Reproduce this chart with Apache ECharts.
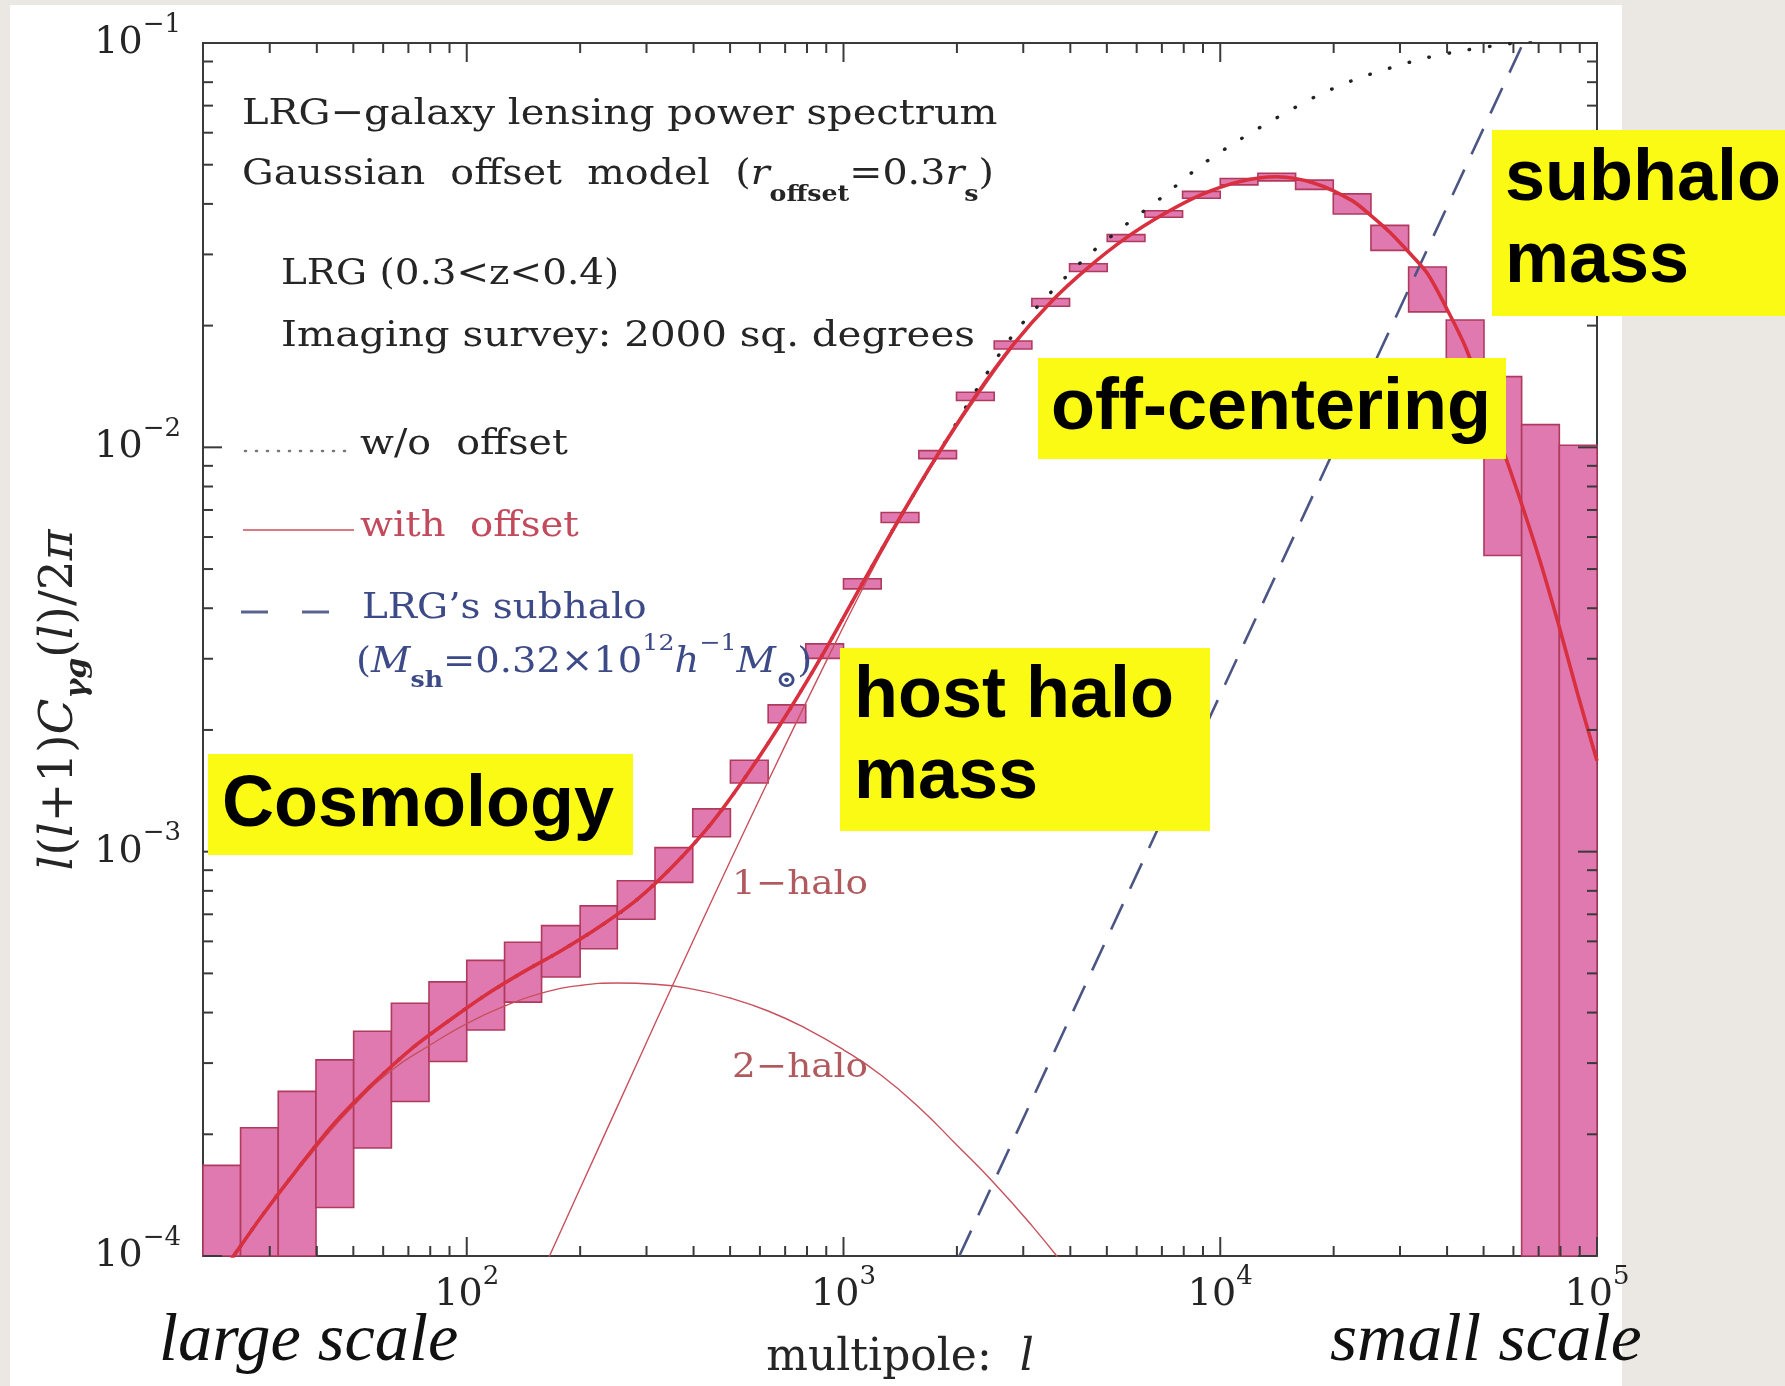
<!DOCTYPE html>
<html>
<head>
<meta charset="utf-8">
<script src="https://cdn.jsdelivr.net/npm/echarts@6/dist/echarts.min.js"></script>
<style>
  html, body { margin: 0; padding: 0; background: #ebe8e3; }
  #chart { width: 1785px; height: 1386px; }
</style>
</head>
<body>
<div id="chart"></div>
<script>
// ---- data -------------------------------------------------------------
// multipole bin edges (0.1 dex bins)
const binEdges = [19.95, 25.1, 31.6, 39.8, 50.1, 63.1, 79.4, 100, 126, 158, 200, 251, 316, 398, 501, 631, 794,
  1000, 1259, 1585, 1995, 2512, 3162, 3981, 5012, 6310, 7943, 10000, 12589, 15849, 19953, 25119, 31623,
  39811, 50119, 63096, 79433, 100000];
// upper / lower edge of each error box
const boxUpper = [1.675e-4, 2.075e-4, 2.553e-4, 3.055e-4, 3.597e-4, 4.217e-4, 4.764e-4, 5.383e-4, 5.970e-4,
  6.561e-4, 7.345e-4, 8.472e-4, 1.023e-3, 1.276e-3, 1.683e-3, 2.307e-3, 3.266e-3, 4.732e-3, 6.902e-3,
  9.817e-3, 1.368e-2, 1.832e-2, 2.333e-2, 2.844e-2, 3.357e-2, 3.846e-2, 4.295e-2, 4.624e-2, 4.764e-2,
  4.581e-2, 4.236e-2, 3.540e-2, 2.793e-2, 2.065e-2, 1.496e-2, 1.138e-2, 1.012e-2];
const boxLower = [1e-5, 4.4e-5, 7.3e-5, 1.318e-4, 1.849e-4, 2.410e-4, 3.027e-4, 3.622e-4, 4.246e-4,
  4.898e-4, 5.754e-4, 6.808e-4, 8.395e-4, 1.089e-3, 1.479e-3, 2.084e-3, 3.006e-3, 4.467e-3, 6.516e-3,
  9.376e-3, 1.306e-2, 1.750e-2, 2.234e-2, 2.723e-2, 3.228e-2, 3.707e-2, 4.130e-2, 4.457e-2, 4.560e-2,
  4.345e-2, 3.776e-2, 3.069e-2, 2.163e-2, 1.49e-2, 5.4e-3, 1e-5, 1e-5];

// model curves: [multipole, l(l+1)C/2pi]
const withOffset = [[19.95, 8.0e-5], [22.4, 9.1e-5], [28.2, 1.235e-4], [35.5, 1.641e-4], [44.7, 2.138e-4],
  [56.2, 2.661e-4], [70.8, 3.236e-4], [89.1, 3.802e-4], [112, 4.416e-4], [141, 5.035e-4], [178, 5.689e-4],
  [224, 6.501e-4], [282, 7.586e-4], [355, 9.268e-4], [447, 1.178e-3], [562, 1.578e-3], [708, 2.193e-3],
  [891, 3.133e-3], [1122, 4.603e-3], [1413, 6.714e-3], [1778, 9.594e-3], [2239, 1.337e-2], [2818, 1.791e-2],
  [3548, 2.286e-2], [4467, 2.786e-2], [5623, 3.296e-2], [7079, 3.776e-2], [8913, 4.217e-2], [11220, 4.539e-2],
  [14125, 4.667e-2], [17783, 4.498e-2], [22387, 4.074e-2], [25119, 3.741e-2], [28184, 3.404e-2],
  [31623, 3.041e-2], [35481, 2.692e-2], [39811, 2.213e-2], [44668, 1.778e-2], [50119, 1.334e-2],
  [56234, 9.89e-3], [63096, 7.24e-3], [70795, 5.19e-3], [79433, 3.59e-3], [89125, 2.43e-3], [100000, 1.679e-3]];
const withoutOffset = [[19.95, 8.0e-5], [22.4, 9.1e-5], [28.2, 1.235e-4], [35.5, 1.641e-4], [44.7, 2.138e-4],
  [56.2, 2.661e-4], [70.8, 3.236e-4], [89.1, 3.802e-4], [112, 4.416e-4], [141, 5.035e-4], [178, 5.689e-4],
  [224, 6.501e-4], [282, 7.586e-4], [355, 9.268e-4], [447, 1.178e-3], [562, 1.578e-3], [708, 2.193e-3],
  [891, 3.133e-3], [1122, 4.603e-3], [1413, 6.714e-3], [1778, 9.594e-3], [2239, 1.374e-2], [2818, 1.897e-2],
  [3548, 2.415e-2], [4467, 2.985e-2], [5623, 3.556e-2], [7079, 4.188e-2], [8913, 4.989e-2], [11220, 5.754e-2],
  [14125, 6.531e-2], [17783, 7.345e-2], [22387, 8.072e-2], [28184, 8.670e-2], [35481, 9.204e-2],
  [44668, 9.594e-2], [56234, 9.908e-2], [70795, 1.019e-1], [100000, 1.052e-1]];
const oneHalo = [[158.5, 9.12e-5], [199.5, 1.462e-4], [251.2, 2.344e-4], [316.2, 3.758e-4], [398.1, 5.998e-4],
  [501.2, 9.506e-4], [631, 1.496e-3], [794.3, 2.333e-3], [1000, 3.606e-3], [1259, 5.47e-3], [1585, 7.943e-3],
  [1995, 1.122e-2], [2512, 1.535e-2], [2818, 1.775e-2]];
const twoHalo = [[19.95, 7.9e-5], [25.1, 1.07e-4], [31.6, 1.41e-4], [39.8, 1.849e-4], [50.1, 2.355e-4],
  [63.1, 2.877e-4], [79.4, 3.311e-4], [100, 3.758e-4], [126, 4.150e-4], [158, 4.467e-4], [200, 4.667e-4],
  [251, 4.732e-4], [316, 4.699e-4], [398, 4.571e-4], [501, 4.345e-4], [631, 4.036e-4], [794, 3.656e-4],
  [1000, 3.236e-4], [1259, 2.799e-4], [1585, 2.333e-4], [1995, 1.884e-4], [2512, 1.514e-4], [3162, 1.189e-4],
  [3981, 9.12e-5], [4467, 7.94e-5]];
const subhaloTerm = [[2030, 1e-4], [63700, 1e-1]];

// axis ticks
const xMajorTicks = [100, 1000, 10000, 100000];
const xMinorTicks = [30, 40, 50, 60, 70, 80, 90, 200, 300, 400, 500, 600, 700, 800, 900,
  2000, 3000, 4000, 5000, 6000, 7000, 8000, 9000, 20000, 30000, 40000, 50000, 60000, 70000, 80000, 90000];
const yMajorTicks = [1e-4, 1e-3, 1e-2, 1e-1];
const yMinorTicks = [2e-4, 3e-4, 4e-4, 5e-4, 6e-4, 7e-4, 8e-4, 9e-4, 2e-3, 3e-3, 4e-3, 5e-3, 6e-3, 7e-3,
  8e-3, 9e-3, 2e-2, 3e-2, 4e-2, 5e-2, 6e-2, 7e-2, 8e-2, 9e-2];

const X_MIN = 19.95, X_MAX = 100000, Y_MIN = 1e-4, Y_MAX = 0.1;

// ---- styling helpers -------------------------------------------------
const SERIF = '"DejaVu Serif", serif';
const SANS = '"Liberation Sans", Arial, sans-serif';
const INK = '#252525';
const RED_THIN = '#c8505c';
const BLUE = '#3d4a88';

function powLabel(v) {
  const lg = Math.log10(v);
  const e = Math.round(lg);
  if (Math.abs(lg - e) > 1e-6) return '';
  return '{b|10}{s|' + (e < 0 ? '\u2212' + (-e) : String(e)) + '}';
}
const tickRich = {
  b: { fontFamily: SERIF, fontSize: 38, color: INK, lineHeight: 62 },
  s: { fontFamily: SERIF, fontSize: 26, color: INK, lineHeight: 22, verticalAlign: 'top' }
};

function textEl(x, base, text, size, color, opts) {
  const o = opts || {};
  return {
    type: 'text', x: x, y: base - 0.35 * size, z: o.z || 50, scaleX: o.scaleX || 1.1,
    style: {
      text: text, fill: color, font: (o.italic ? 'italic ' : '') + (o.bold ? 'bold ' : '') + size + 'px ' + (o.family || SERIF),
      rich: o.rich, align: 'left', verticalAlign: 'middle', textAlign: 'left', textVerticalAlign: 'middle'
    }
  };
}
function note(rect, lines) {
  const els = [{ type: 'rect', z: 100, shape: { x: rect[0], y: rect[1], width: rect[2], height: rect[3] },
    style: { fill: '#fafa14' } }];
  lines.forEach(function (ln) {
    els.push(textEl(ln[0], ln[1], ln[2], 72, '#000', { bold: true, family: SANS, scaleX: 1, z: 101 }));
  });
  return els;
}

// ---- chart -------------------------------------------------------------
const chart = echarts.init(document.getElementById('chart'), null, { renderer: 'canvas', width: 1785, height: 1386 });

const subRich = {
  n: { fontFamily: SERIF, fontSize: 36, lineHeight: 64, fill: INK, color: INK },
  i: { fontFamily: SERIF, fontStyle: 'italic', fontSize: 36, lineHeight: 64, fill: INK, color: INK },
  sb: { fontFamily: SERIF, fontWeight: 'bold', fontSize: 23, lineHeight: 24, verticalAlign: 'bottom', fill: INK, color: INK }
};
const massRich = {
  n: { fontFamily: SERIF, fontSize: 35, lineHeight: 60, fill: BLUE, color: BLUE },
  i: { fontFamily: SERIF, fontStyle: 'italic', fontSize: 35, lineHeight: 60, fill: BLUE, color: BLUE },
  sp: { fontFamily: SERIF, fontSize: 23, lineHeight: 32, verticalAlign: 'top', fill: BLUE, color: BLUE },
  sb: { fontFamily: SERIF, fontWeight: 'bold', fontSize: 23, lineHeight: 20, verticalAlign: 'bottom', fill: BLUE, color: BLUE }
};
const yNameRich = {
  n: { fontFamily: SERIF, fontSize: 47, lineHeight: 66, fill: INK, color: INK },
  i: { fontFamily: SERIF, fontStyle: 'italic', fontSize: 47, lineHeight: 66, fill: INK, color: INK },
  sb: { fontFamily: SERIF, fontStyle: 'italic', fontWeight: 'bold', fontSize: 30, lineHeight: 26, verticalAlign: 'bottom', fill: INK, color: INK }
};

const graphics = [
  { type: 'rect', z: -100, shape: { x: 10, y: 5, width: 1612, height: 1381 }, style: { fill: '#ffffff' } },
  // y-axis title, reading upwards
  { type: 'text', x: 60, y: 700, rotation: Math.PI / 2, z: 50,
    style: { text: '{i|l}{n|(}{i|l}{n|+1)}{i|C}{sb|\u03b3g}{n|(}{i|l}{n|)/2}{i|\u03c0}', rich: yNameRich,
      align: 'center', verticalAlign: 'middle', textAlign: 'center', textVerticalAlign: 'middle' } },
  textEl(242, 127, 'LRG\u2212galaxy lensing power spectrum', 36, INK, { scaleX: 1.11 }),
  textEl(242, 187, '{n|Gaussian  offset  model  (}{i|r}{sb|offset}{n|=0.3}{i|r}{sb|s}{n|)}', 36, INK, { rich: subRich }),
  textEl(281, 287, 'LRG (0.3<z<0.4)', 36, INK, { scaleX: 1.08 }),
  textEl(281, 349, 'Imaging survey: 2000 sq. degrees', 36, INK, { scaleX: 1.12 }),
  textEl(360, 457, 'w/o  offset', 36, INK),
  textEl(360, 539, 'with  offset', 36, '#c24a5c', { scaleX: 1.07 }),
  textEl(362, 621, 'LRG\u2019s subhalo', 36, BLUE, { scaleX: 1.08 }),
  textEl(356, 675, '{n|(}{i|M}{sb|sh}{n|=0.32\u00d710}{sp|12}{i|h}{sp|\u22121}{i|M}{sb|\u2299}{n|)}', 35, BLUE, { rich: massRich }),
  textEl(732, 897, '1\u2212halo', 34, '#b05a5e'),
  textEl(732, 1080, '2\u2212halo', 34, '#b05a5e'),
  // legend keys
  { type: 'line', z: 50, shape: { x1: 245, y1: 451, x2: 346, y2: 451 },
    style: { stroke: '#777', lineWidth: 2.5, lineDash: [1, 10], lineCap: 'round' } },
  { type: 'line', z: 50, shape: { x1: 243, y1: 530, x2: 354, y2: 530 }, style: { stroke: RED_THIN, lineWidth: 1.6 } },
  { type: 'line', z: 50, shape: { x1: 241, y1: 612, x2: 268, y2: 612 }, style: { stroke: '#5a6290', lineWidth: 3 } },
  { type: 'line', z: 50, shape: { x1: 302, y1: 612, x2: 329, y2: 612 }, style: { stroke: '#5a6290', lineWidth: 3 } },
  // scale hints
  textEl(159, 1366, 'large scale', 67, '#111', { italic: true, family: '"Liberation Serif", serif', scaleX: 1.02 }),
  textEl(1330, 1366, 'small scale', 67, '#111', { italic: true, family: '"Liberation Serif", serif', scaleX: 1.04 })
]
  .concat(note([208, 754, 425, 101], [[222, 831, 'Cosmology']]))
  .concat(note([840, 648, 370, 183], [[854, 722, 'host halo'], [854, 803, 'mass']]))
  .concat(note([1038, 358, 468, 101], [[1051, 434, 'off-centering']]))
  .concat(note([1492, 130, 293, 186], [[1505, 205, 'subhalo'], [1505, 287, 'mass']]));

const tickData = []
  .concat(xMajorTicks.map(function (v) { return [v, Y_MIN, 0, 1]; }))
  .concat(xMinorTicks.map(function (v) { return [v, Y_MIN, 0, 0]; }))
  .concat(yMajorTicks.map(function (v) { return [X_MIN, v, 1, 1]; }))
  .concat(yMinorTicks.map(function (v) { return [X_MIN, v, 1, 0]; }));

const option = {
  backgroundColor: '#ebe8e3',
  animation: false,
  grid: { left: 203, top: 43, width: 1394, height: 1219, show: true, borderColor: '#3a3a3a', borderWidth: 2,
    backgroundColor: 'transparent' },
  xAxis: {
    type: 'log', logBase: 10, min: X_MIN, max: X_MAX,
    axisLine: { show: false }, axisTick: { show: false }, splitLine: { show: false },
    axisLabel: { formatter: powLabel, margin: 8, rich: tickRich },
    name: '{n|multipole:  }{i|l}', nameLocation: 'middle', nameGap: 80,
    nameTextStyle: { rich: {
      n: { fontFamily: SERIF, fontSize: 44, color: INK, lineHeight: 46 },
      i: { fontFamily: SERIF, fontStyle: 'italic', fontSize: 44, color: INK, lineHeight: 46 } } }
  },
  yAxis: {
    type: 'log', logBase: 10, min: Y_MIN, max: Y_MAX,
    axisLine: { show: false }, axisTick: { show: false }, splitLine: { show: false },
    axisLabel: { formatter: powLabel, margin: 22, rich: tickRich }
  },
  graphic: { elements: graphics },
  series: [
    {
      name: 'error boxes', type: 'custom', z: 2, silent: true,
      data: boxUpper.map(function (hi, i) { return [binEdges[i], binEdges[i + 1], boxLower[i], hi]; }),
      encode: { x: [0, 1], y: [2, 3] },
      renderItem: function (params, api) {
        const a = api.coord([api.value(0), api.value(3)]);
        const b = api.coord([api.value(1), api.value(2)]);
        const cs = params.coordSys;
        const r = echarts.graphic.clipRectByRect(
          { x: a[0], y: a[1], width: b[0] - a[0], height: b[1] - a[1] },
          { x: cs.x, y: cs.y, width: cs.width, height: cs.height });
        if (!r) return null;
        return { type: 'rect', shape: r, style: { fill: '#e079af', stroke: '#b03a5c', lineWidth: 1.6 } };
      }
    },
    {
      name: '2-halo', type: 'line', z: 3, data: twoHalo, showSymbol: false, symbol: 'none', smooth: 0.5,
      lineStyle: { color: RED_THIN, width: 1.4 }
    },
    {
      name: '1-halo', type: 'line', z: 3, data: oneHalo, showSymbol: false, symbol: 'none', smooth: 0.3,
      lineStyle: { color: RED_THIN, width: 1.4 }
    },
    {
      name: "LRG's subhalo", type: 'line', z: 3, data: subhaloTerm, showSymbol: false, symbol: 'none',
      lineStyle: { color: '#4c5684', width: 2.6, type: [28, 17] }
    },
    {
      name: 'w/o offset', type: 'line', z: 3, data: withoutOffset, showSymbol: false, symbol: 'none', smooth: 0.3,
      lineStyle: { color: '#222', width: 3.4, type: [0.5, 20], cap: 'round' }
    },
    {
      name: 'with offset', type: 'line', z: 4, data: withOffset, showSymbol: false, symbol: 'none', smooth: 0.3,
      lineStyle: { color: '#d8303f', width: 3.6 }
    },
    {
      name: 'ticks', type: 'custom', z: 6, silent: true, data: tickData,
      renderItem: function (params, api) {
        const cs = params.coordSys;
        const p = api.coord([api.value(0), api.value(1)]);
        const len = api.value(3) ? 19 : 10;
        const st = { stroke: '#3a3a3a', lineWidth: 2 };
        if (api.value(2) === 0) {
          const x = p[0], yb = cs.y + cs.height, yt = cs.y;
          return { type: 'group', children: [
            { type: 'line', shape: { x1: x, y1: yb, x2: x, y2: yb - len }, style: st },
            { type: 'line', shape: { x1: x, y1: yt, x2: x, y2: yt + len }, style: st } ] };
        }
        const y = p[1], xl = cs.x, xr = cs.x + cs.width;
        return { type: 'group', children: [
          { type: 'line', shape: { x1: xl, y1: y, x2: xl + len, y2: y }, style: st },
          { type: 'line', shape: { x1: xr, y1: y, x2: xr - len, y2: y }, style: st } ] };
      }
    }
  ]
};
chart.setOption(option);
</script>
</body>
</html>
